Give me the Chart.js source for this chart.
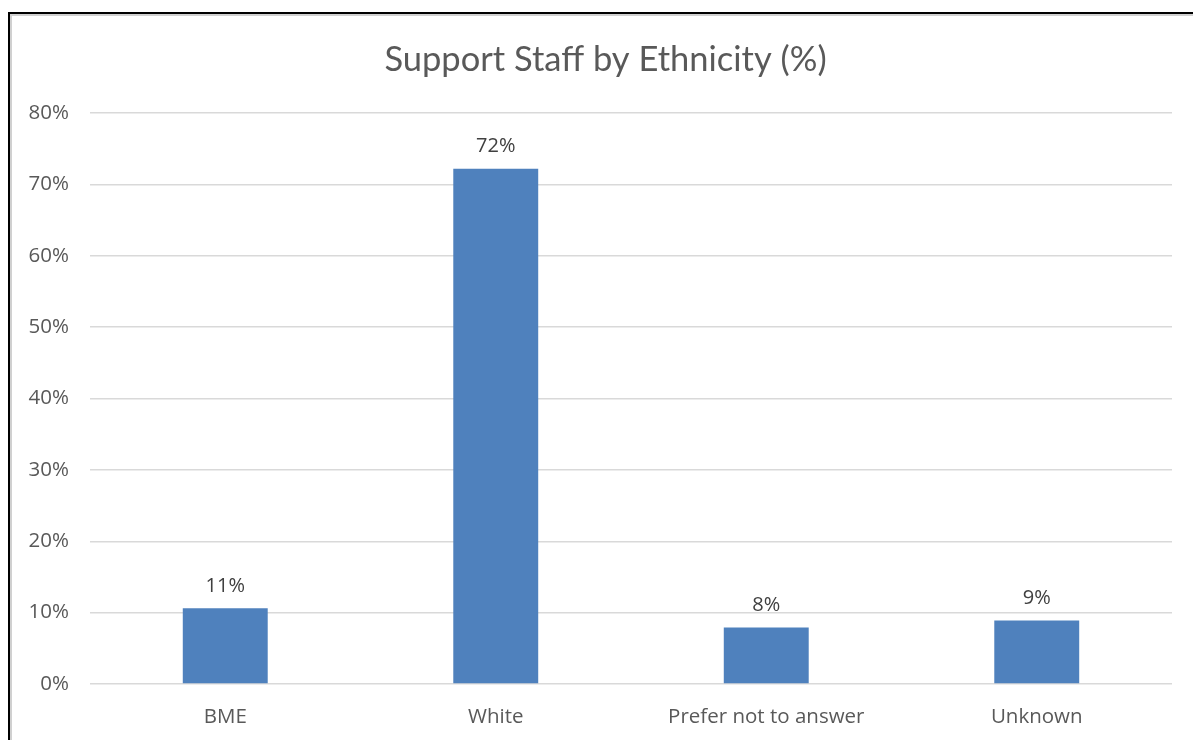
<!DOCTYPE html>
<html>
<head>
<meta charset="utf-8">
<script src="https://cdn.jsdelivr.net/npm/chart.js@4.4.0/dist/chart.umd.min.js"></script>
<style>
  html, body { margin: 0; padding: 0; background: #fff; }
  #wrap { position: relative; width: 1193px; height: 740px; }
  #frame {
    position: absolute; left: 8px; top: 12px; right: -4px; bottom: -4px;
    border-left: 2px solid #000; border-top: 2px solid #000;
    box-shadow: inset 2px 2px 0 #d0d0d0;
    pointer-events: none;
  }
  canvas { position: absolute; left: 0; top: 0; }
</style>
</head>
<body>
<div id="wrap">
  <canvas id="chart" width="1193" height="740"></canvas>
  <div id="frame"></div>
</div>
<script>
const categories = ['BME', 'White', 'Prefer not to answer', 'Unknown'];
const shares = [10.6, 72.2, 7.9, 8.9];
const tickValues = [0, 10, 20, 30, 40, 50, 60, 70, 80];
const chartTitle = 'Support Staff by Ethnicity (%)';

const textColor = '#595959';
const titleFont = 'Lato, "Open Sans", sans-serif';
const labelFont = '"Open Sans", Lato, sans-serif';

// title centred on the whole framed area, not on the plot
const titlePlugin = {
  id: 'titlePlugin',
  afterDraw(chart) {
    const ctx = chart.ctx;
    ctx.save();
    ctx.font = '34.5px ' + titleFont;
    ctx.fillStyle = textColor;
    ctx.textAlign = 'center';
    ctx.textBaseline = 'middle';
    ctx.fillText(chartTitle, (chart.width + 18) / 2, 60);
    ctx.restore();
  }
};

// value labels above each bar
const barLabels = {
  id: 'barLabels',
  afterDatasetsDraw(chart) {
    const ctx = chart.ctx;
    const meta = chart.getDatasetMeta(0);
    ctx.save();
    ctx.font = '20px ' + labelFont;
    ctx.fillStyle = '#404040';
    ctx.textAlign = 'center';
    ctx.textBaseline = 'bottom';
    meta.data.forEach((bar, i) => {
      ctx.fillText(Math.round(shares[i]) + '%', bar.x, bar.y - 12);
    });
    ctx.restore();
  }
};

new Chart(document.getElementById('chart'), {
  type: 'bar',
  data: {
    labels: categories,
    datasets: [{
      data: shares,
      backgroundColor: '#4f81bd',
      categoryPercentage: 1,
      barPercentage: 0.314,
    }],
  },
  options: {
    responsive: false,
    animation: false,
    layout: { padding: { left: 0, right: 21, top: 113, bottom: 0 } },
    plugins: {
      legend: { display: false },
      tooltip: { enabled: false },
      title: { display: false },
    },
    scales: {
      x: {
        grid: { display: false },
        border: { display: false },
        ticks: {
          color: textColor,
          font: { family: labelFont, size: 20.5 },
          padding: 13,
          maxRotation: 0,
        },
        afterFit(scale) { scale.height = 56; },
      },
      y: {
        min: 0,
        max: 80,
        afterBuildTicks(scale) { scale.ticks = tickValues.map(v => ({ value: v })); },
        grid: { color: '#d9d9d9', lineWidth: 1.5, drawTicks: false },
        border: { display: false },
        ticks: {
          color: textColor,
          font: { family: labelFont, size: 20.5 },
          padding: 21,
          callback: v => v + '%',
        },
        afterFit(scale) { scale.width = 90; },
      },
    },
  },
  plugins: [barLabels, titlePlugin],
});
</script>
</body>
</html>
